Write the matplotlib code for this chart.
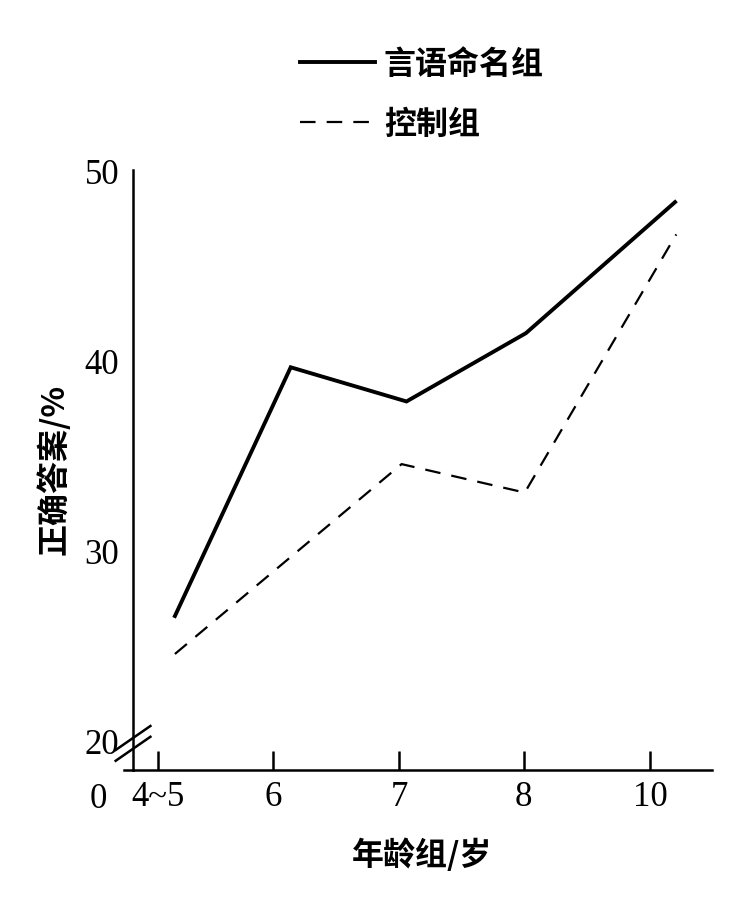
import matplotlib
matplotlib.use("Agg")
import matplotlib.pyplot as plt
from matplotlib.lines import Line2D

categories = ["4~5", "6", "7", "8", "10"]
tick_pos = [0, 0.94, 1.96, 2.97, 4.0]
naming_x = [0.14, 1.08, 2.02, 2.99, 4.2]
naming_y = [26.6, 39.7, 37.9, 41.5, 48.4]
control_x = [0.14, 1.98, 2.98, 4.21]
control_y = [24.6, 34.6, 33.1, 46.7]
yticks = [20, 30, 40, 50]

num_font = dict(family=["Liberation Serif", "DejaVu Serif"], size=25)
cjk = ["Noto Sans CJK SC", "DejaVu Sans"]

fig = plt.figure(figsize=(7.31, 9.23), dpi=100)
ax = fig.add_axes([0.182, 0.166, 0.792, 0.650])
ax.plot(naming_x, naming_y, color="black", lw=2.8, solid_joinstyle="miter")
ax.plot(control_x, control_y, color="black", lw=1.6, ls=(0, (7, 5)))
ax.set_xlim(-0.2, 4.5)
ax.set_ylim(18.5, 50.1)
for s in ["top", "right"]:
    ax.spines[s].set_visible(False)
for s in ["left", "bottom"]:
    ax.spines[s].set_linewidth(1.8)
ax.set_xticks(tick_pos)
ax.set_xticklabels(categories, **num_font)
ax.set_yticks(yticks)
ax.set_yticklabels([str(v) for v in yticks], **num_font)
ax.tick_params(axis="x", direction="in", length=14, width=1.8, pad=8)
ax.tick_params(axis="y", direction="in", length=0, width=1.8, pad=10)
ax.set_xlabel("年龄组/岁", family=cjk, fontsize=23, fontweight="bold", labelpad=18)
ax.set_ylabel("正确答案/%", family=cjk, fontsize=23, fontweight="bold", labelpad=10)
# axis break
for dy in (0, 0.018):
    ax.plot([-0.03, 0.03], [0.015 + dy, 0.055 + dy], transform=ax.transAxes,
            color="black", lw=1.8, clip_on=False)
ax.plot([-0.015, 0], [0, 0], transform=ax.transAxes, color="black", lw=1.8, clip_on=False)
ax.text(-0.06, -0.05, "0", transform=ax.transAxes, ha="center", va="center", **num_font)

# legend
fig.add_artist(Line2D([0.41, 0.513], [1 - 62/923]*2, color="black", lw=2.8))
fig.add_artist(Line2D([0.41, 0.513], [1 - 122/923]*2, color="black", lw=1.6, ls=(0, (7, 5))))
fig.text(0.525, 1 - 65/923, "言语命名组", family=cjk, fontsize=23, fontweight="bold", va="center")
fig.text(0.525, 1 - 125/923, "控制组", family=cjk, fontsize=23, fontweight="bold", va="center")

fig.savefig("out.png", dpi=100)
